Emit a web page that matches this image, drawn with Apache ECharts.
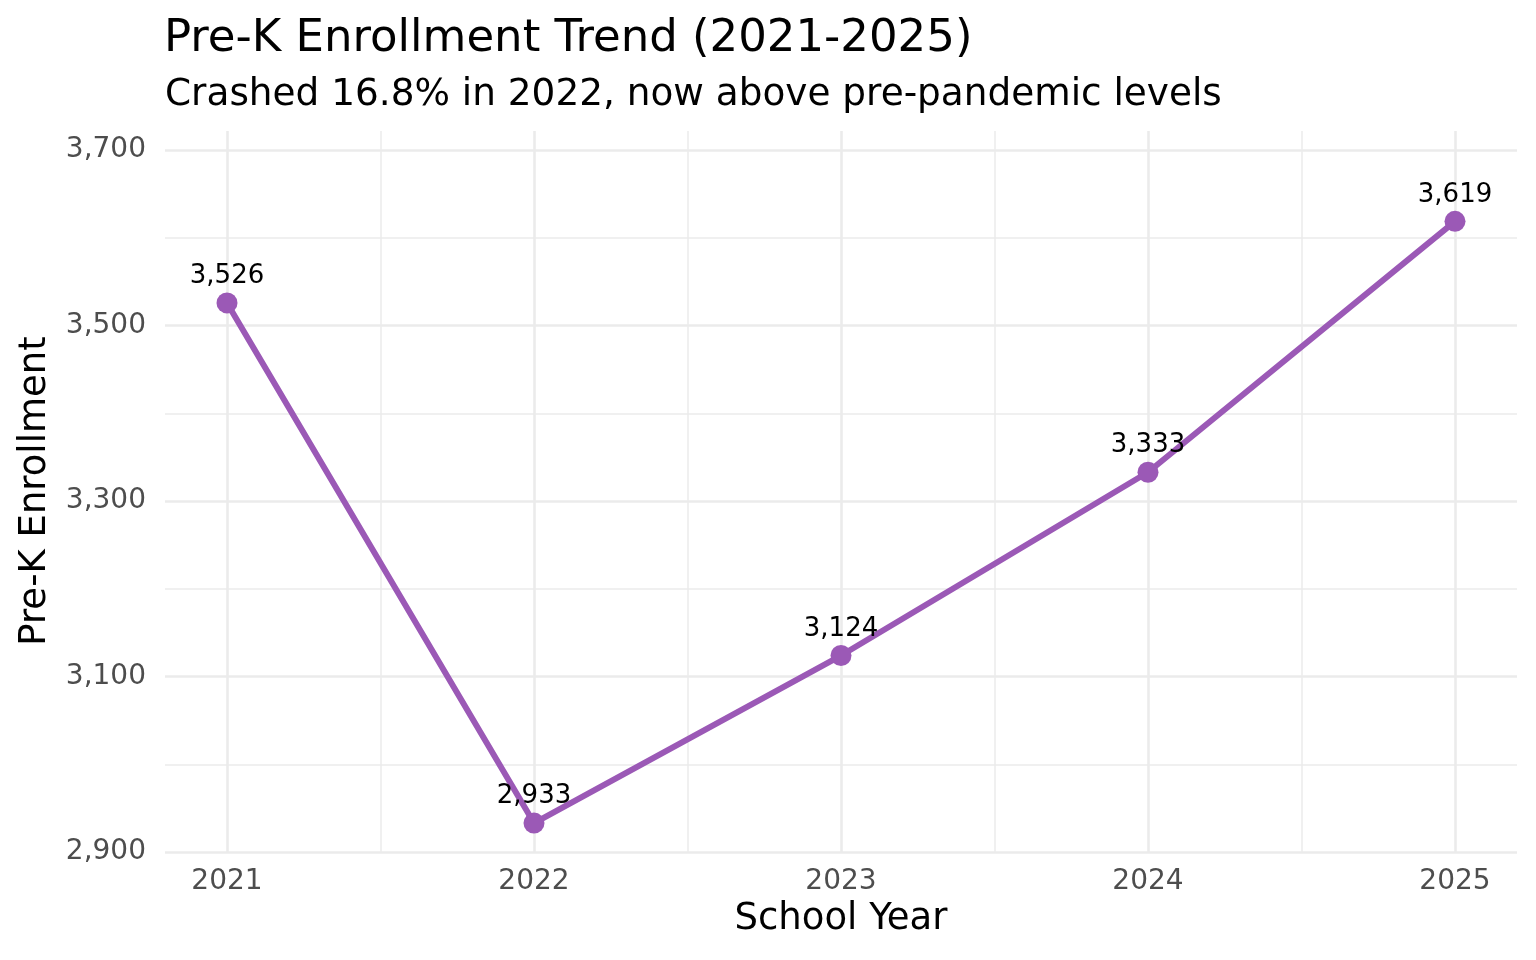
<!DOCTYPE html>
<html>
<head>
<meta charset="utf-8">
<script src="https://cdn.jsdelivr.net/npm/echarts@6/dist/echarts.min.js"></script>
<style>
  html, body { margin: 0; padding: 0; background: #fff; }
  #chart { width: 1536px; height: 960px; }
</style>
</head>
<body>
<div id="chart"></div>
<script>
var years = [2021, 2022, 2023, 2024, 2025];
var enrollment = [3526, 2933, 3124, 3333, 3619];
var yTicks = [2900, 3100, 3300, 3500, 3700];

var fuente = "DejaVu Sans";
var colorLinea = "#9b59b6";
var colorGrid = "#ebebeb";

function formatoMiles(v) {
  return Number(v).toLocaleString("en-US");
}

document.addEventListener("DOMContentLoaded", function () {
  var chart = echarts.init(document.getElementById("chart"));
  var puntos = years.map(function (y, i) { return [y, enrollment[i]]; });

  var option = {
    animation: false,
    textStyle: { fontFamily: fuente },
    title: [
      {
        text: "Pre-K Enrollment Trend (2021-2025)",
        left: 159, top: 12,
        textStyle: { fontFamily: fuente, fontSize: 45, fontWeight: "normal", color: "#000" }
      },
      {
        text: "Crashed 16.8% in 2022, now above pre-pandemic levels",
        left: 160, top: 72,
        textStyle: { fontFamily: fuente, fontSize: 37.4, fontWeight: "normal", color: "#000" }
      }
    ],
    grid: [
      { left: 165, right: 19, top: 150, bottom: 108 },
      { left: 227, right: 81, top: 131, bottom: 108 }
    ],
    xAxis: [
      { gridIndex: 0, type: "value", min: 0, max: 1, show: false },
      {
        gridIndex: 1, type: "value", min: years[0], max: years[years.length - 1], interval: 1,
        axisLine: { show: false }, axisTick: { show: false },
        axisLabel: {
          margin: 16, fontSize: 28, color: "#4d4d4d", fontFamily: fuente,
          formatter: function (v) { return String(v); }
        },
        splitLine: { show: true, lineStyle: { color: colorGrid, width: 2.6 } },
        minorTick: { show: false, splitNumber: 2 },
        minorSplitLine: { show: true, lineStyle: { color: colorGrid, width: 1.5 } }
      }
    ],
    yAxis: [
      {
        gridIndex: 0, type: "value", min: yTicks[0], max: yTicks[yTicks.length - 1], interval: 200,
        axisLine: { show: false }, axisTick: { show: false },
        axisLabel: {
          margin: 19, fontSize: 28, color: "#4d4d4d", fontFamily: fuente,
          padding: [6, 0, 0, 0], formatter: formatoMiles
        },
        splitLine: { show: true, lineStyle: { color: colorGrid, width: 2.6 } },
        minorTick: { show: false, splitNumber: 2 },
        minorSplitLine: { show: true, lineStyle: { color: colorGrid, width: 1.5 } }
      },
      { gridIndex: 1, type: "value", min: 2900, max: 3722, show: false }
    ],
    graphic: [
      {
        type: "text", x: 841, y: 901,
        style: { text: "School Year", fontFamily: fuente, fontSize: 37, fill: "#000", align: "center", verticalAlign: "top" }
      },
      {
        type: "text", x: 17, y: 491, rotation: Math.PI / 2,
        style: { text: "Pre-K Enrollment", fontFamily: fuente, fontSize: 37, fill: "#000", align: "center", verticalAlign: "top" }
      }
    ],
    series: [
      {
        name: "Pre-K Enrollment",
        type: "line",
        xAxisIndex: 1, yAxisIndex: 1,
        data: puntos,
        symbol: "circle",
        symbolSize: 21,
        lineStyle: { color: colorLinea, width: 6 },
        itemStyle: { color: colorLinea },
        label: {
          show: true, position: "top", distance: 3,
          fontSize: 26, color: "#000", fontFamily: fuente,
          formatter: function (p) { return formatoMiles(p.value[1]); }
        }
      }
    ]
  };

  chart.setOption(option);
});
</script>
</body>
</html>
